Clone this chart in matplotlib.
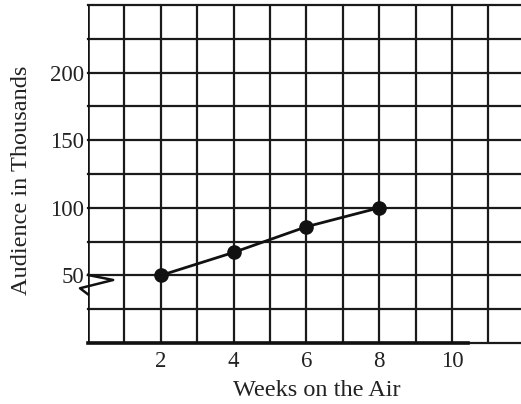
import numpy as np
import matplotlib
matplotlib.use('Agg')
import matplotlib.pyplot as plt

plt.rcParams['font.family'] = ['Liberation Serif', 'DejaVu Serif']

# audience by week
weeks = [2, 4, 6, 8]
audience = [50, 67, 86, 100]

x_ticks = [2, 4, 6, 8, 10]
y_ticks = [50, 100, 150, 200]

fig = plt.figure(figsize=(5.21, 4.04), dpi=100)
ax = fig.add_axes([88 / 521, 61 / 404, 433 / 521, 338 / 404])
ax.set_xlim(0, 433 / 36.4)
ax.set_ylim(0, 250)

# grid: one line per week, one per 25 thousand
for gx in range(1, 12):
    ax.axvline(gx, color='#1a1a1a', lw=1.6, zorder=1)
for gy in range(0, 251, 25):
    ax.axhline(gy, color='#1a1a1a', lw=1.6, zorder=1, clip_on=False)

for s in ax.spines.values():
    s.set_visible(False)
ax.axvline(0, color='#111111', lw=2.6, zorder=2)
ax.plot([0, 10.45], [0, 0], color='#111111', lw=2.6, zorder=2, clip_on=False)

ax.plot(weeks, audience, color='#111111', lw=2.0, marker='o', ms=9.5, zorder=3)

# axis break mark near 50
zx = np.array([0, 0.69, -0.22, 0.0])
zy = np.array([0.3, -3.4, -9.5, -14.0]) + y_ticks[0]
ax.plot(zx, zy, color='#111111', lw=1.8, clip_on=False, zorder=3)

ax.set_xticks(x_ticks)
ax.set_yticks(y_ticks)
ax.tick_params(length=0, labelsize=16.5, colors='#222222')
ax.tick_params(axis='x', pad=6)
ax.tick_params(axis='y', pad=3)
ax.set_xlabel('Weeks on the Air', fontsize=17.5, color='#222222')
ax.set_ylabel('Audience in Thousands', fontsize=17.5, color='#222222')
ax.xaxis.set_label_coords(0.529, -0.108)
ax.yaxis.set_label_coords(-0.13, 0.482)

fig.savefig('out.png', dpi=100)
